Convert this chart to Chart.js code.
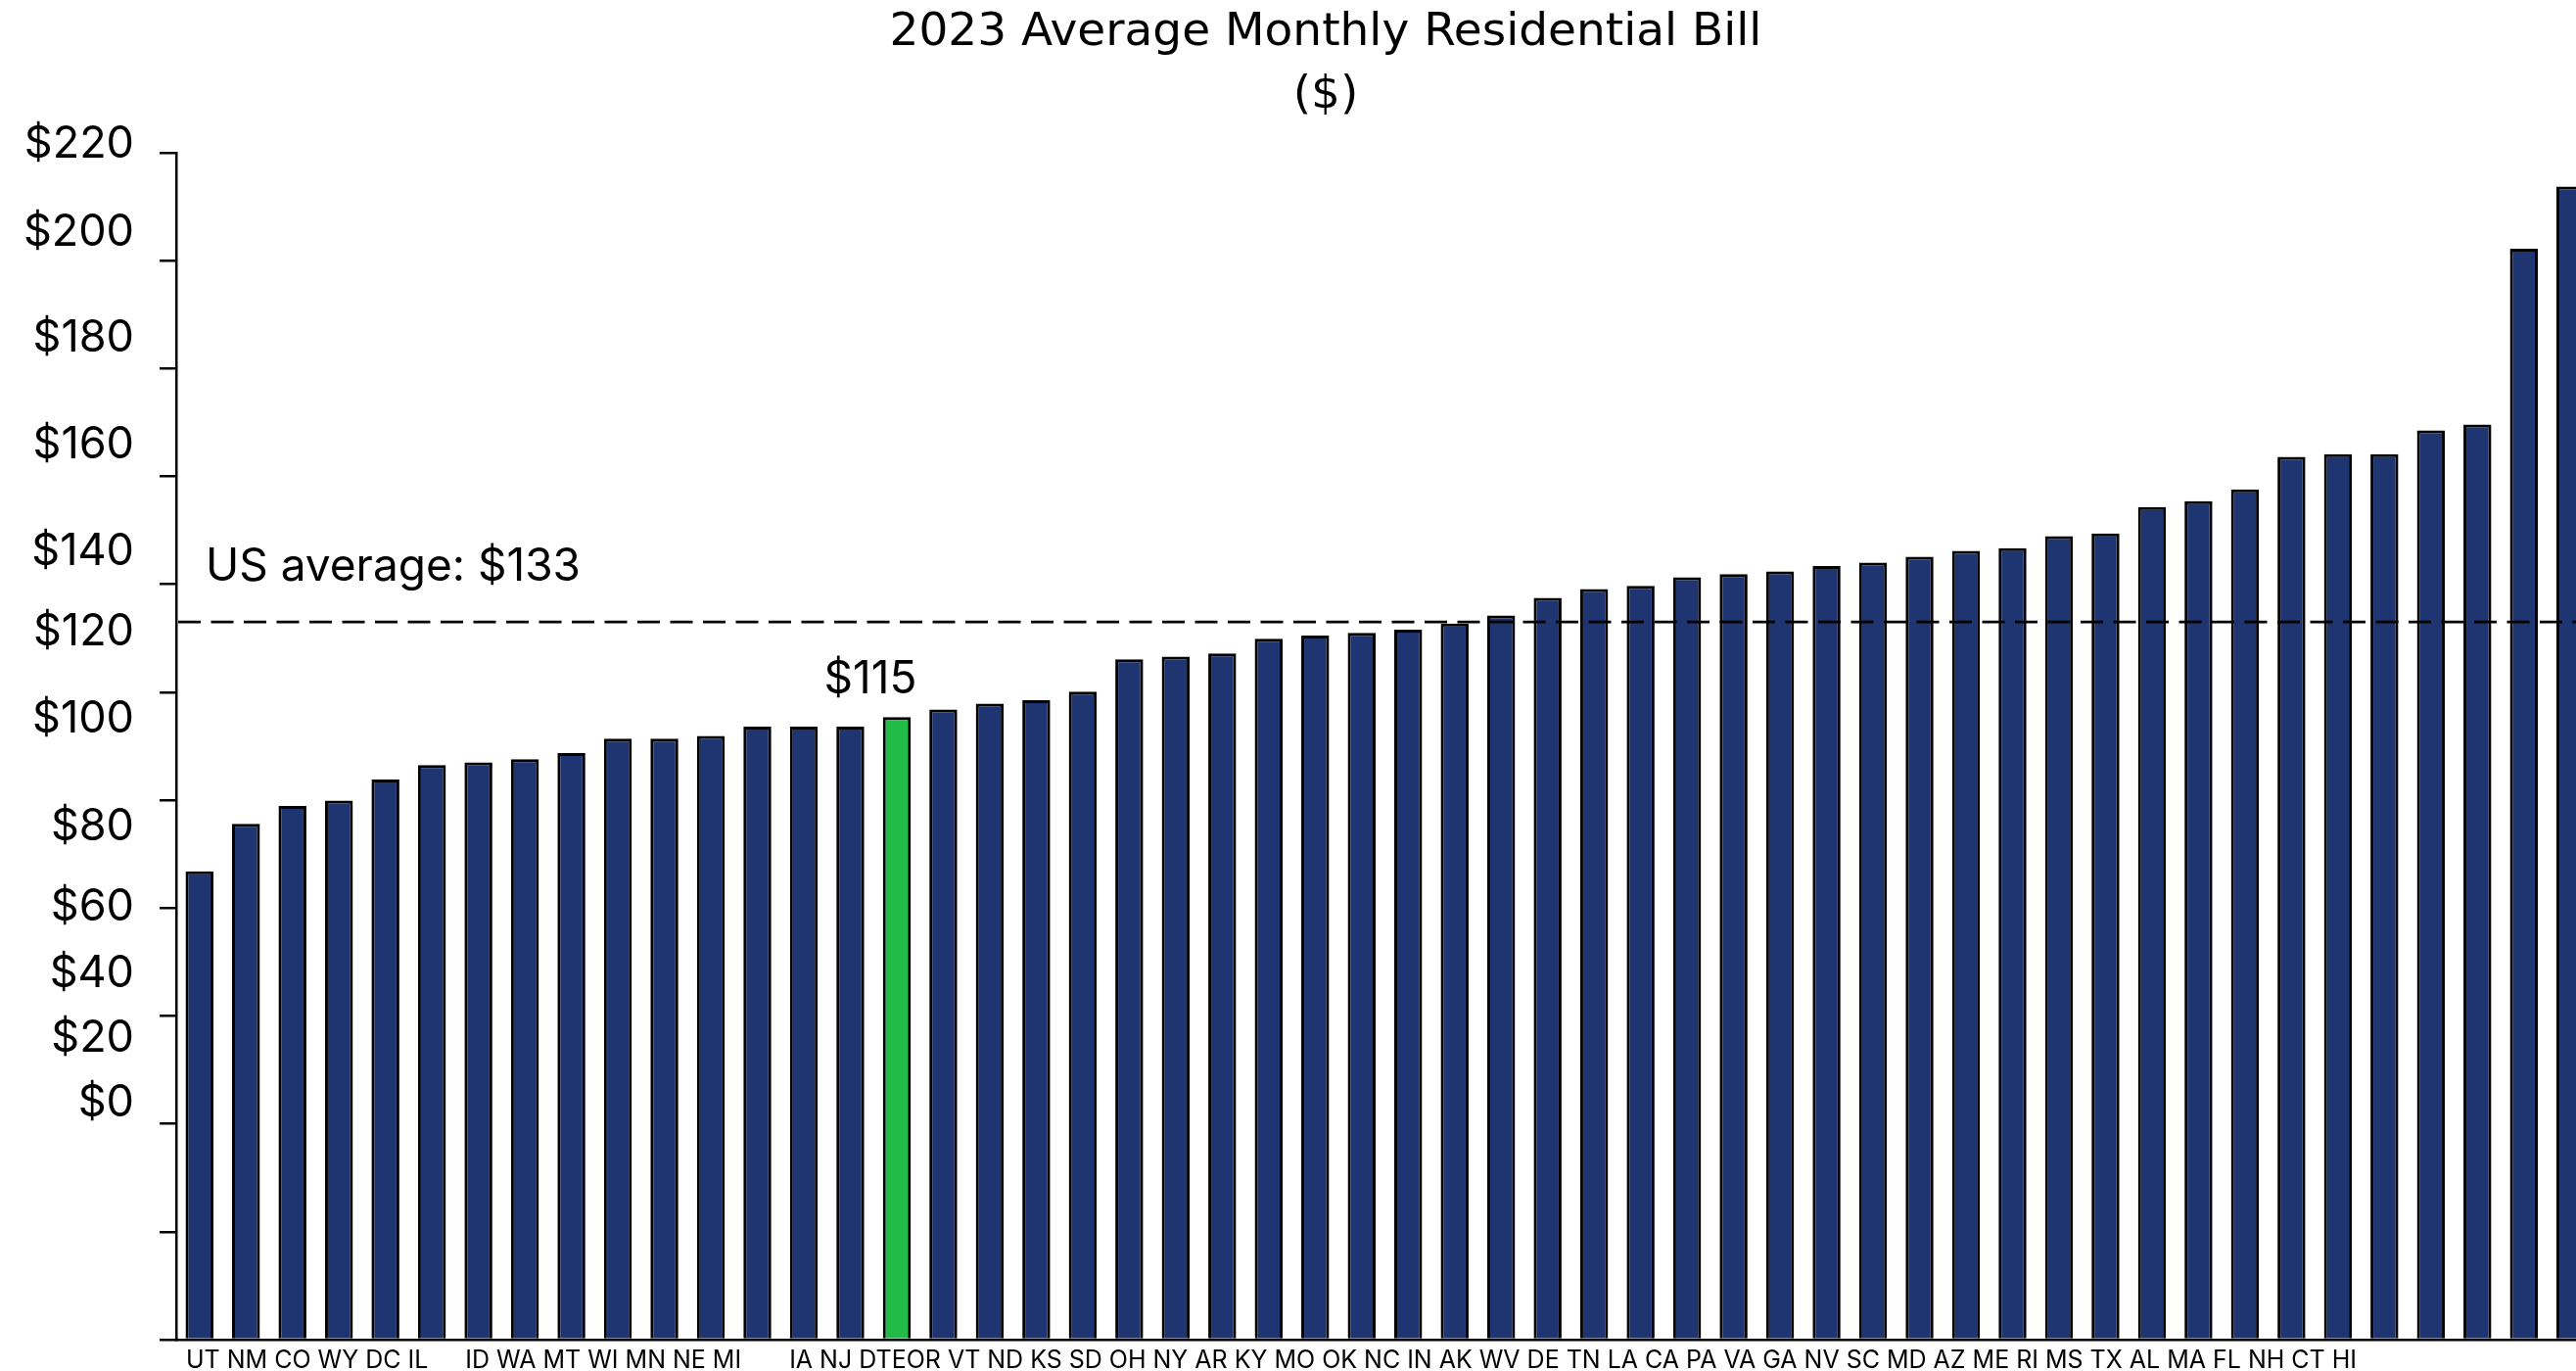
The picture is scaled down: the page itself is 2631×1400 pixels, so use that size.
<!DOCTYPE html>
<html>
<head>
<meta charset="utf-8">
<title>2023 Average Monthly Residential Bill</title>
<script src="https://cdn.jsdelivr.net/npm/chart.js@4.4.1/dist/chart.umd.min.js"></script>
<style>
  html, body { margin: 0; padding: 0; background: #fff; overflow: hidden; }
  #wrap { width: 2708px; height: 1400px; }
</style>
</head>
<body>
<div id="wrap"><canvas id="billChart"></canvas></div>
<script>
const states = ['UT', 'NM', 'CO', 'WY', 'DC', 'IL', 'ID', 'WA', 'MT', 'WI', 'MN', 'NE', 'MI',
  'IA', 'NJ', 'DTE', 'OR', 'VT', 'ND', 'KS', 'SD', 'OH', 'NY', 'AR', 'KY', 'MO', 'OK', 'NC',
  'IN', 'AK', 'WV', 'DE', 'TN', 'LA', 'CA', 'PA', 'VA', 'GA', 'NV', 'SC', 'MD', 'AZ', 'ME',
  'RI', 'MS', 'TX', 'AL', 'MA', 'FL', 'NH', 'CT', 'HI'];
const bills = [86.8, 95.6, 98.9, 99.9, 103.8, 106.5, 107.0, 107.6, 108.7, 111.4, 111.4, 111.9, 113.6,
  113.6, 113.6, 115.4, 116.8, 117.9, 118.5, 120.1, 126.1, 126.6, 127.2, 129.9, 130.5, 131.0, 131.6, 132.7,
  134.2, 137.5, 139.1, 139.7, 141.3, 141.9, 142.4, 143.4, 144.0, 145.1, 146.2, 146.7, 148.9, 149.4, 154.3,
  155.4, 157.6, 163.6, 164.1, 164.1, 168.5, 169.6, 202.2, 213.7];
const highlight = 'DTE';
const usAverage = 133;
const yTicks = [0, 20, 40, 60, 80, 100, 120, 140, 160, 180, 200, 220];
const yTickText = yTicks.map(v => '$' + v);

// the y labels in the reference do not sit on their ticks; where each one sits, in $ units
const yLabelAt = [43.8, 55.8, 67.8, 80.2, 95.0, 114.9, 131.2, 146.0, 165.8, 185.6, 205.1, 221.6];
// state labels run together as one line of text, with two wider gaps and no gap after DTE
const labelGapAfter = { IL: 38, MI: 49, DTE: 0 };

const FONT = 'Inter';
const TITLE_FONT = 'DejaVu Sans';
const NAVY = '#1f3571';
const GREEN = '#22bb48';

const refLine = {
  id: 'refLine',
  afterDatasetsDraw(chart) {
    const { ctx, chartArea } = chart;
    const y = chart.scales.y.getPixelForValue(usAverage);
    ctx.save();
    ctx.strokeStyle = '#000';
    ctx.lineWidth = 2.8;
    ctx.setLineDash([23, 10.5]);
    ctx.beginPath();
    ctx.moveTo(chartArea.left + 2, y);
    ctx.lineTo(chartArea.right, y);
    ctx.stroke();
    ctx.setLineDash([]);

    ctx.fillStyle = '#000';
    ctx.font = '46px ' + FONT;
    ctx.textBaseline = 'alphabetic';
    ctx.textAlign = 'left';
    ctx.fillText('US average: $' + usAverage, chartArea.left + 30, y - 42);

    // value over the highlighted bar
    const i = states.indexOf(highlight);
    const bar = chart.getDatasetMeta(0).data[i];
    ctx.textAlign = 'center';
    ctx.fillText('$' + Math.round(bills[i]), bar.x - 27, bar.y - 24);
    ctx.restore();
  }
};

const stateLabels = {
  id: 'stateLabels',
  afterDraw(chart) {
    const { ctx } = chart;
    const xs = chart.scales.x;
    ctx.save();
    ctx.fillStyle = '#000';
    ctx.font = '25px ' + FONT;
    ctx.textAlign = 'left';
    ctx.textBaseline = 'alphabetic';
    let cx = xs.left + 10;
    const y = xs.top + 29;
    states.forEach(s => {
      ctx.fillText(s, cx, y);
      const gap = labelGapAfter[s] !== undefined ? labelGapAfter[s] : 7;
      cx += ctx.measureText(s).width + gap;
    });
    ctx.restore();
  }
};

new Chart(document.getElementById('billChart'), {
  type: 'bar',
  data: {
    labels: states,
    datasets: [{
      data: bills,
      backgroundColor: states.map(s => s === highlight ? GREEN : NAVY),
      borderColor: '#000',
      borderWidth: 3,
      barPercentage: 0.6,
      categoryPercentage: 1
    }]
  },
  options: {
    responsive: true,
    maintainAspectRatio: false,
    animation: false,
    layout: { padding: 0 },
    plugins: {
      legend: { display: false },
      tooltip: { enabled: false },
      title: {
        display: true,
        text: ['2023 Average Monthly Residential Bill', '($)'],
        color: '#000',
        font: { family: TITLE_FONT, size: 47, weight: 'normal', lineHeight: 1.36 },
        padding: { top: 2, bottom: 26 }
      }
    },
    scales: {
      x: {
        offset: true,
        grid: { display: false },
        border: { display: true, color: '#000', width: 2.5 },
        ticks: { display: false },
        afterFit: s => { s.height = 32; }
      },
      y: {
        position: 'left',
        weight: 0,
        min: 0,
        max: 220,
        afterBuildTicks: s => { s.ticks = yTicks.map(v => ({ value: v })); },
        grid: { drawOnChartArea: false, drawTicks: true, tickLength: 17, color: '#000', lineWidth: 2.5 },
        border: { display: true, color: '#000', width: 2.5 },
        ticks: { display: false },
        afterFit: s => { s.width = 40; }
      },
      yl: {
        position: 'left',
        weight: 1,
        min: 0,
        max: 220,
        afterBuildTicks: s => { s.ticks = yLabelAt.map(v => ({ value: v })); },
        grid: { display: false, drawTicks: false },
        border: { display: false },
        ticks: {
          autoSkip: false,
          padding: 3,
          color: '#000',
          font: { family: FONT, size: 45 },
          callback: (v, i) => yTickText[i]
        },
        afterFit: s => { s.width = 140; }
      },
      // empty strip on the right so the plot runs past the window edge
      yr: {
        position: 'right',
        min: 0,
        max: 220,
        grid: { display: false, drawTicks: false },
        border: { display: false },
        ticks: { display: false },
        afterFit: s => { s.width = 59; }
      }
    }
  },
  plugins: [refLine, stateLabels]
});
</script>
</body>
</html>
